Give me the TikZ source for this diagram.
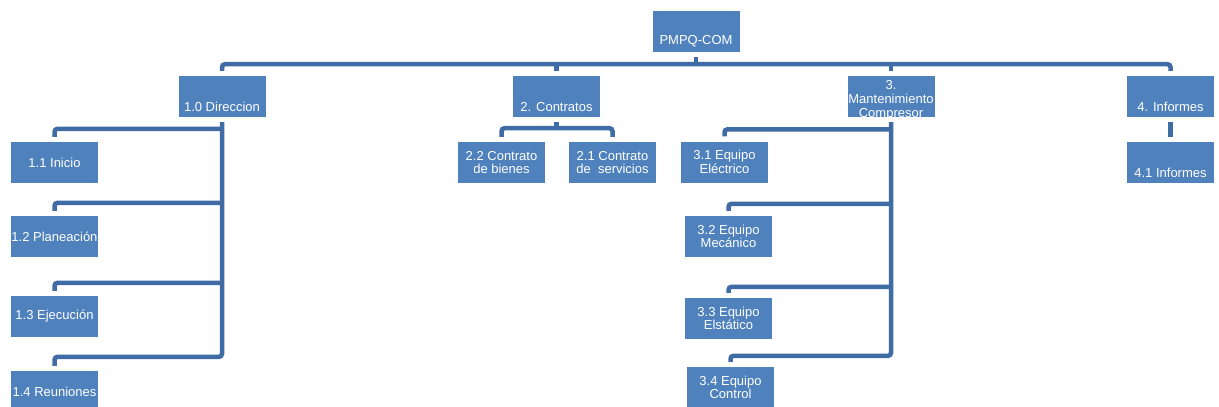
\documentclass[tikz,border=0pt]{standalone}
\usepackage{fontspec}
\setmainfont{Liberation Sans}
\usetikzlibrary{calc}
\definecolor{boxblue}{HTML}{4F81BD}
\definecolor{linkblue}{HTML}{3F6CA4}
% label set low in the box, as in the upper levels of the chart
\newcommand{\lowtext}[2][5pt]{\parbox[c][41pt][b]{87pt}{\centering #2\par\vspace{#1}}}
\begin{document}
\begin{tikzpicture}[x=1pt,y=-1pt,
  wbs/.style={fill=boxblue, text=white, inner sep=0pt, minimum width=87pt,
    minimum height=41pt, font=\fontsize{13}{13.5}\selectfont, align=center},
  conn/.style={draw=linkblue, line width=4.5pt, rounded corners=3pt},
]
\useasboundingbox (0,0) rectangle (1219,407);
\clip (0,0) rectangle (1219,407);
\fill[white] (0,0) rectangle (1219,407);

% root and first level
\node[wbs] (root) at (696,31.5) {\lowtext{PMPQ-COM}};
\node[wbs] (dir) at (222,96.5) {\lowtext{1.0 Direccion}};
\node[wbs] (con) at (556.5,96.5) {\lowtext{2. Contratos}};
\node[wbs, font=\fontsize{13}{14}\selectfont] (man) at (891,96.5)
  {\lowtext[-3pt]{3.\\Mantenimiento\\Compresor}};
\node[wbs] (inf) at (1170.5,96.5) {\lowtext{4. Informes}};

% 1.0 Direccion
\node[wbs] (c11) at (54.5,162.5) {1.1 Inicio};
\node[wbs] (c12) at (54.5,236.5) {1.2 Planeación};
\node[wbs] (c13) at (54.5,316.5) {1.3 Ejecución};
\node[wbs] (c14) at (54.5,391.5) {1.4 Reuniones};

% 2. Contratos
\node[wbs] (c22) at (501.5,162.5) {2.2 Contrato\\de bienes};
\node[wbs] (c21) at (612.5,162.5) {2.1 Contrato\\de\ \ servicios};

% 3. Mantenimiento
\node[wbs] (c31) at (724.5,162) {3.1 Equipo\\Eléctrico};
\node[wbs] (c32) at (728.5,236.5) {3.2 Equipo\\Mecánico};
\node[wbs] (c33) at (728.5,318.5) {3.3 Equipo\\Elstático};
\node[wbs] (c34) at (730.5,387.5) {3.4 Equipo\\Control};

% 4. Informes
\node[wbs] (c41) at (1170.5,162.5) {\lowtext{4.1 Informes}};

% top bar
\coordinate (bar) at ($(root.south)+(0,12)$);
\draw[conn] ([yshift=-5pt]root.south) -- (bar);
\draw[conn] ([yshift=5pt]dir.north) |- (bar) -| ([yshift=5pt]inf.north);
\draw[conn] ([yshift=5pt]con.north) -- (con.north |- bar);
\draw[conn] ([yshift=5pt]man.north) -- (man.north |- bar);

% branch heights above each child
\foreach \c/\d in {c11/13,c12/13,c13/13,c14/14,c31/12,c32/12,c33/11,c34/11}
  \coordinate (b\c) at ($(\c.north)+(0,-\d)$);

% Direccion branches
\draw[conn] ([yshift=-5pt]dir.south) |- (bc14) -- ([yshift=5pt]c14.north);
\foreach \c in {c11,c12,c13}
  \draw[conn] (dir.south |- b\c) -| ([yshift=5pt]\c.north);

% Mantenimiento branches
\draw[conn] ([yshift=-5pt]man.south) |- (bc34) -- ([yshift=5pt]c34.north);
\foreach \c in {c31,c32,c33}
  \draw[conn] (man.south |- b\c) -| ([yshift=5pt]\c.north);

% Contratos branches
\coordinate (cbar) at ($(con.south)+(0,11)$);
\draw[conn] ([yshift=-5pt]con.south) -- (cbar);
\draw[conn] ([yshift=5pt]c22.north) |- (cbar) -| ([yshift=5pt]c21.north);

% Informes
\draw[conn] ([yshift=-5pt]inf.south) -- ([yshift=5pt]c41.north);
\end{tikzpicture}
\end{document}
